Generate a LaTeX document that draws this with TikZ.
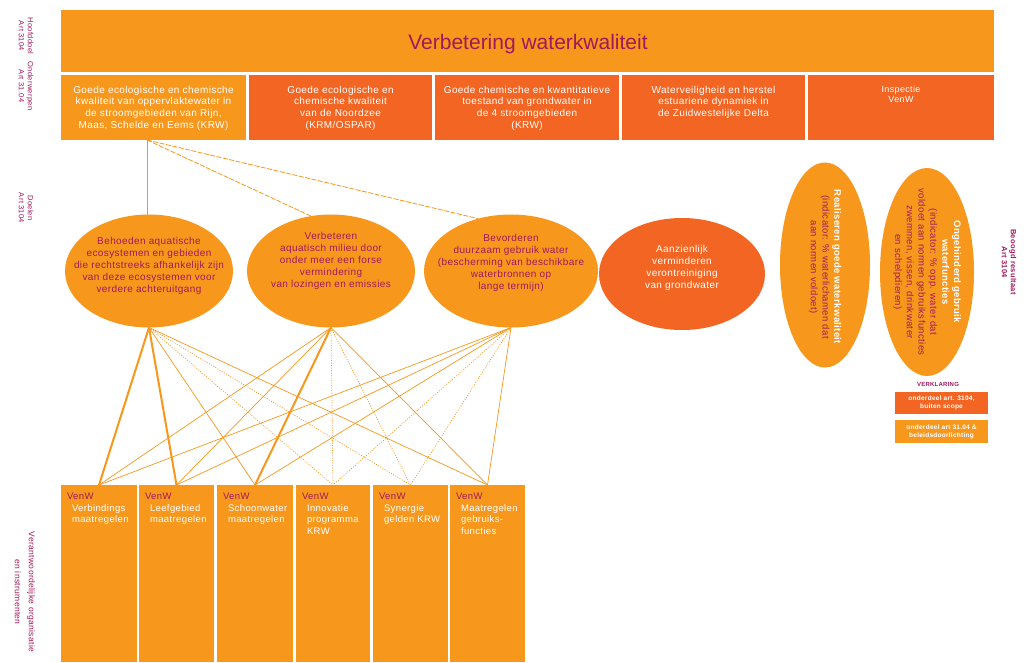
\documentclass[tikz,border=0pt]{standalone}
\usepackage{fontspec}
\setmainfont{Liberation Sans}[LetterSpace=4]
\newfontfamily\titlefont{Liberation Sans}
\usetikzlibrary{shapes.geometric,calc}
\definecolor{lor}{HTML}{F7981D}
\definecolor{dor}{HTML}{F26522}
\definecolor{pur}{HTML}{A0195B}
\begin{document}
\begin{tikzpicture}[x=1pt,y=-1pt,
  every node/.style={inner sep=0pt, outer sep=0pt},
  lbox/.style={fill=lor, anchor=north west},
  dbox/.style={fill=dor, anchor=north west},
  ellbg/.style={ellipse, fill=lor},
  elltxt/.style={align=center, text=pur, font=\fontsize{10}{11.8}\selectfont},
  rottxt/.style={align=center, text=pur, rotate=-90, font=\fontsize{9.5}{11.8}\selectfont},
  hdr/.style={anchor=north, align=center, text=white, font=\fontsize{10}{11.7}\selectfont},
  side/.style={rotate=-90, align=center, text=pur, font=\fontsize{7.5}{9}\selectfont},
  instr/.style={anchor=north west, align=left, text=white, font=\fontsize{9.5}{11.5}\selectfont},
  strong/.style={draw=lor, line width=2pt},
  weak/.style={draw=lor, line width=0.7pt},
  dots/.style={draw=lor, line width=0.7pt, dash pattern=on 1pt off 1.5pt},
  dashes/.style={draw=lor, line width=0.8pt, dash pattern=on 5pt off 1.5pt},
  legt/.style={align=center, text=white, font=\bfseries\fontsize{6.5}{8}\selectfont}
]
\useasboundingbox (0,0) rectangle (1030,662);
\fill[white] (0,0) rectangle (1030,662);

% banner
\node[lbox, minimum width=933pt, minimum height=62pt] (banner) at (61,10) {};
\node[text=pur, font=\titlefont\fontsize{21}{24}\selectfont] (title) at (528,44) {Verbetering waterkwaliteit};

% row 2
\node[lbox, minimum width=185pt, minimum height=65pt] (r1) at (61,75) {};
\node[dbox, minimum width=183pt, minimum height=65pt] (r2) at (249,75) {};
\node[dbox, minimum width=184pt, minimum height=65pt] (r3) at (435,75) {};
\node[dbox, minimum width=183pt, minimum height=65pt] (r4) at (622,75) {};
\node[dbox, minimum width=186pt, minimum height=65pt] (r5) at (808,75) {};
\node[hdr] (r1t) at ($(r1.north)+(0,11)$) {Goede ecologische en chemische\\kwaliteit van oppervlaktewater in\\de stroomgebieden van Rijn,\\Maas, Schelde en Eems (KRW)};
\node[hdr] (r2t) at ($(r2.north)+(0,11)$) {Goede ecologische en\\chemische kwaliteit\\van de Noordzee\\(KRM/OSPAR)};
\node[hdr] (r3t) at ($(r3.north)+(0,11)$) {Goede chemische en kwantitatieve\\toestand van grondwater in\\de 4 stroomgebieden\\(KRW)};
\node[hdr] (r4t) at ($(r4.north)+(0,11)$) {Waterveiligheid en herstel\\estuariene dynamiek in\\de Zuidwestelijke Delta};
\node[hdr, font=\fontsize{9}{9.5}\selectfont] (r5t) at ($(r5.north)+(0,11)$) {Inspectie\\VenW};

% goal ellipses
\node[ellbg, minimum width=168pt, minimum height=113pt] (e1) at (149,271) {};
\node[ellbg, minimum width=168pt, minimum height=113pt] (e2) at (331,271) {};
\node[ellbg, minimum width=174pt, minimum height=113pt] (e3) at (511,271) {};
\node[ellbg, fill=dor, minimum width=166pt, minimum height=112pt] (e4) at (682,274) {};
\node[ellbg, minimum width=90pt, minimum height=205pt] (e5) at (825,265) {};
\node[ellbg, minimum width=94pt, minimum height=208pt] (e6) at (927,272) {};

\node[elltxt] (e1t) at ($(e1)+(0,-5)$) {Behoeden aquatische\\ecosystemen en gebieden\\die rechtstreeks afhankelijk zijn\\van deze ecosystemen voor\\verdere achteruitgang};
\node[elltxt] (e2t) at ($(e2)+(0,-10)$) {Verbeteren\\aquatisch milieu door\\onder meer een forse\\vermindering\\van lozingen en emissies};
\node[elltxt] (e3t) at ($(e3)+(0,-8)$) {Bevorderen\\duurzaam gebruik water\\(bescherming van beschikbare\\waterbronnen op\\lange termijn)};
\node[elltxt, text=white] (e4t) at ($(e4)+(0,-6)$) {Aanzienlijk\\verminderen\\verontreiniging\\van grondwater};
\node[rottxt] (e5t) at ($(e5)+(0,2)$) {\textcolor{white}{\bfseries Realiseren goede waterkwaliteit}\\(indicator: \% waterlichamen dat\\aan normen voldoet)};
\node[rottxt] (e6t) at (e6) {\textcolor{white}{\bfseries Ongehinderd gebruik}\\\textcolor{white}{\bfseries waterfuncties}\\(indicator: \% opp. water dat\\voldoet aan normen gebruiksfuncties\\zwemmen, vissen, drinkwater\\en schelpdieren)};

% instrument boxes
\node[lbox, minimum width=76pt, minimum height=177pt] (b1) at (61,485) {};
\node[lbox, minimum width=75pt, minimum height=177pt] (b2) at (139,485) {};
\node[lbox, minimum width=76pt, minimum height=177pt] (b3) at (217,485) {};
\node[lbox, minimum width=74pt, minimum height=177pt] (b4) at (296,485) {};
\node[lbox, minimum width=75pt, minimum height=177pt] (b5) at (373,485) {};
\node[lbox, minimum width=75pt, minimum height=177pt] (b6) at (450,485) {};
\node[instr] (b1t) at ($(b1.north west)+(6,8)$) {\textcolor{pur}{VenW}\\\hspace*{5pt}Verbindings\\\hspace*{5pt}maatregelen};
\node[instr] (b2t) at ($(b2.north west)+(6,8)$) {\textcolor{pur}{VenW}\\\hspace*{5pt}Leefgebied\\\hspace*{5pt}maatregelen};
\node[instr] (b3t) at ($(b3.north west)+(6,8)$) {\textcolor{pur}{VenW}\\\hspace*{5pt}Schoonwater\\\hspace*{5pt}maatregelen};
\node[instr] (b4t) at ($(b4.north west)+(6,8)$) {\textcolor{pur}{VenW}\\\hspace*{5pt}Innovatie\\\hspace*{5pt}programma\\\hspace*{5pt}KRW};
\node[instr] (b5t) at ($(b5.north west)+(6,8)$) {\textcolor{pur}{VenW}\\\hspace*{5pt}Synergie\\\hspace*{5pt}gelden KRW};
\node[instr] (b6t) at ($(b6.north west)+(6,8)$) {\textcolor{pur}{VenW}\\\hspace*{5pt}Maatregelen\\\hspace*{5pt}gebruiks-\\\hspace*{5pt}functies};

% connectors top
\coordinate (t1) at (147,140);
\draw[weak] (t1) -- (t1 |- e1.north);
\draw[dashes] (t1) -- (e2.110);
\draw[dashes] (t1) -- (e3.122);

% connectors bottom
\draw[strong] (e1.south) -- (b1.north);
\draw[strong] (e1.south) -- (b2.north);
\draw[weak] (e1.south) -- (b3.north);
\draw[dots] (e1.south) -- (b4.north);
\draw[dots] (e1.south) -- (b5.north);
\draw[weak] (e1.south) -- (b6.north);
\draw[weak] (e2.south) -- (b1.north);
\draw[weak] (e2.south) -- (b2.north);
\draw[strong] (e2.south) -- (b3.north);
\draw[dots] (e2.south) -- (b4.north);
\draw[dots] (e2.south) -- (b5.north);
\draw[weak] (e2.south) -- (b6.north);
\draw[weak] (e3.south) -- (b1.north);
\draw[weak] (e3.south) -- (b2.north);
\draw[weak] (e3.south) -- (b3.north);
\draw[dots] (e3.south) -- (b4.north);
\draw[dots] (e3.south) -- (b5.north);
\draw[weak] (e3.south) -- (b6.north);

% legend
\node[text=pur, font=\bfseries\fontsize{6}{7}\selectfont] (leg) at (938,384) {VERKLARING};
\node[dbox, minimum width=93pt, minimum height=22pt] (l1) at (895,392) {};
\node[legt] (l1t) at (l1) {onderdeel art. 3104,\\buiten scope};
\node[lbox, minimum width=93pt, minimum height=23pt] (l2) at (895,420) {};
\node[legt] (l2t) at (l2) {onderdeel art 31.04 \&\\beleidsdoorlichting};

% side labels
\node[side] (s1) at (26,36) {Hoofddoel\\Art 3104};
\node[side] (s2) at (26,86) {Onderwerpen\\Art 31.04};
\node[side] (s3) at (26,208) {Doelen\\Art 3104};
\node[side, font=\bfseries\fontsize{7.5}{9}\selectfont] (s4) at (1009,262) {Beoogd resultaat\\Art 3104};
\node[side, font=\fontsize{8.5}{14}\selectfont] (s5) at (25,592) {Verantwoordelijke organisatie\\en instrumenten};
\end{tikzpicture}
\end{document}
